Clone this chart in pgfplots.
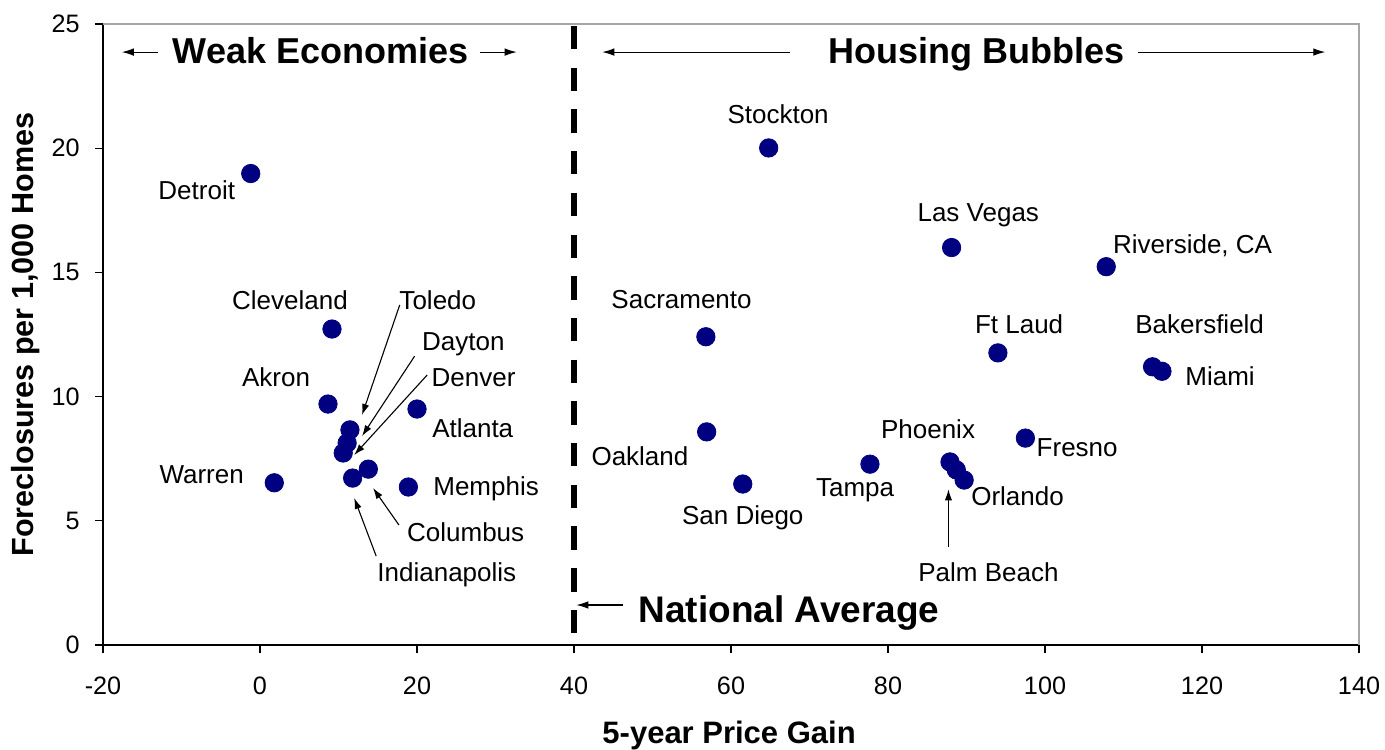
\documentclass[border=0pt]{standalone}
\usepackage{pgfplots}
\pgfplotsset{compat=1.18}
\usepackage{fontspec}
\setmainfont{Liberation Sans}
\usetikzlibrary{arrows.meta}
\definecolor{navydot}{RGB}{0,0,128}
\begin{document}
\begin{tikzpicture}[
  city/.style={font=\fontsize{13}{15}\selectfont, inner sep=0pt, text height=9.3pt, text depth=0pt, anchor=center},
  head/.style={font=\fontsize{18}{21}\selectfont\bfseries, inner sep=0pt, text height=12.9pt, text depth=0pt, anchor=center},
  carrow/.style={line width=0.55pt, -{Latex[length=5.5pt,width=3.6pt]}},
  harrow/.style={line width=0.55pt, -{Latex[length=6pt,width=3.8pt]}}
]
\begin{axis}[
  at={(0,0)}, anchor=south west,
  scale only axis,
  width=628pt, height=310.5pt,
  xmin=-20, xmax=140, ymin=0, ymax=25,
  xtick={-20,0,...,140}, ytick={0,5,...,25},
  axis x line*=bottom, axis y line*=left,
  axis line style={-, black, line width=0.6pt},
  tick align=outside, major tick length=4pt,
  tick style={black, line width=0.6pt},
  /pgf/number format/assume math mode=true,
  ticklabel style={font=\fontsize{12.6}{14}\selectfont},
  xticklabel style={anchor=north, inner sep=0pt, text height=9pt, text depth=0pt, yshift=-11.3pt},
  yticklabel style={anchor=east, inner sep=0pt, xshift=-7.5pt},
  xlabel={5-year Price Gain},
  ylabel={Foreclosures per 1,000 Homes},
  xlabel style={font=\fontsize{15.5}{18}\selectfont\bfseries, at={(axis description cs:0.4985,-0.145)}, anchor=center, inner sep=0pt},
  ylabel style={font=\fontsize{15.3}{18}\selectfont\bfseries, at={(axis description cs:-0.062,0.5)}, anchor=center, inner sep=0pt},
  clip=false,
]
\draw[gray!70, line width=0.6pt] (rel axis cs:0,1) -- (rel axis cs:1,1) -- (rel axis cs:1,0);
\draw[black, line width=3pt, dash pattern=on 11.7pt off 9.15pt, dash phase=19.85pt] (axis cs:40,25) -- (axis cs:40,0);

\addplot[only marks, mark=*, mark size=4.6pt, color=navydot, mark options={fill=navydot, draw=navydot}] coordinates {
  (-1.18,18.98) (9.17,12.72) (8.66,9.70) (1.82,6.53)
  (11.46,8.66) (11.1,8.13) (10.6,7.73) (13.8,7.08) (11.8,6.72)
  (20.0,9.50) (18.9,6.36)
  (64.8,20.01) (88.1,16.0) (107.8,15.23) (56.8,12.41) (94.0,11.76)
  (113.7,11.20) (114.9,11.02) (56.9,8.58) (97.5,8.33) (77.7,7.28)
  (87.9,7.37) (88.7,7.05) (89.7,6.64) (61.5,6.48)
};

% city labels
\node[city] at (axis cs:-8.06,18.30) {Detroit};
\node[city] at (axis cs:-7.43,6.86) {Warren};
\node[city] at (axis cs:3.82,13.90) {Cleveland};
\node[city] at (axis cs:2.04,10.80) {Akron};
\node[city] at (axis cs:22.65,13.90) {Toledo};
\node[city] at (axis cs:25.9,12.23) {Dayton};
\node[city] at (axis cs:27.2,10.80) {Denver};
\node[city] at (axis cs:27.1,8.72) {Atlanta};
\node[city] at (axis cs:28.8,6.41) {Memphis};
\node[city] at (axis cs:26.2,4.56) {Columbus};
\node[city] at (axis cs:23.8,2.95) {Indianapolis};
\node[city] at (axis cs:66.0,21.35) {Stockton};
\node[city] at (axis cs:91.5,17.44) {Las Vegas};
\node[city] at (axis cs:118.8,16.14) {Riverside, CA};
\node[city] at (axis cs:53.7,13.93) {Sacramento};
\node[city] at (axis cs:96.7,12.93) {Ft Laud};
\node[city] at (axis cs:119.7,12.93) {Bakersfield};
\node[city] at (axis cs:122.3,10.83) {Miami};
\node[city] at (axis cs:48.4,7.61) {Oakland};
\node[city] at (axis cs:61.5,5.21) {San Diego};
\node[city] at (axis cs:75.8,6.37) {Tampa};
\node[city] at (axis cs:85.1,8.68) {Phoenix};
\node[city] at (axis cs:104.1,7.98) {Fresno};
\node[city] at (axis cs:96.5,5.99) {Orlando};
\node[city] at (axis cs:92.8,2.93) {Palm Beach};

% pointer arrows
\draw[carrow] (axis cs:17.8,13.69) -- (axis cs:13.0,9.26);
\draw[carrow] (axis cs:19.7,11.63) -- (axis cs:13.0,8.41);
\draw[carrow] (axis cs:21.3,10.87) -- (axis cs:12.0,7.65);
\draw[carrow] (axis cs:17.7,4.83) -- (axis cs:14.4,6.32);
\draw[carrow] (axis cs:14.8,3.58) -- (axis cs:12.0,5.92);
\draw[carrow] (axis cs:87.7,3.96) -- (axis cs:87.7,6.27);

% header annotations
\node[head] at (axis cs:7.7,23.91) {Weak Economies};
\draw[harrow] (axis cs:-13.0,23.87) -- (axis cs:-17.6,23.87);
\draw[harrow] (axis cs:28.0,23.87) -- (axis cs:32.7,23.87);
\node[head] at (axis cs:91.3,23.91) {Housing Bubbles};
\draw[harrow] (axis cs:67.5,23.87) -- (axis cs:43.6,23.87);
\draw[harrow] (axis cs:111.8,23.87) -- (axis cs:135.7,23.87);
\node[head, font=\fontsize{18.5}{21}\selectfont\bfseries, text height=13.2pt] at (axis cs:67.4,1.44) {National Average};
\draw[harrow] (axis cs:46.3,1.61) -- (axis cs:40.3,1.61);
\end{axis}
\pgfresetboundingbox
\path[use as bounding box] (-51.5pt,-52pt) rectangle (641pt,322.5pt);
\end{tikzpicture}
\end{document}
